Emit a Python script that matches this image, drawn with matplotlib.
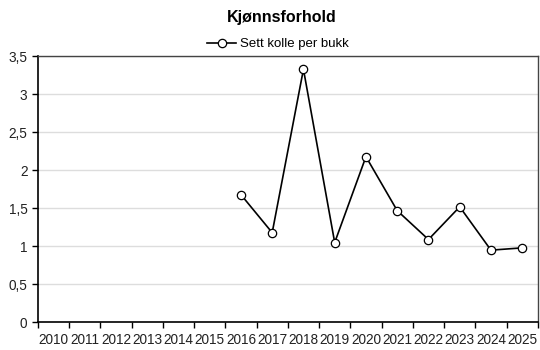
import numpy as np
import matplotlib.pyplot as plt
from matplotlib.ticker import FixedLocator, FuncFormatter

years = [str(y) for y in range(2010, 2026)]
data_years = ['2016', '2017', '2018', '2019', '2020', '2021', '2022', '2023', '2024', '2025']
ratio = [1.68, 1.18, 3.33, 1.05, 2.18, 1.47, 1.09, 1.52, 0.95, 0.98]

plt.rcParams['font.family'] = ['Liberation Sans', 'DejaVu Sans']

fig = plt.figure(figsize=(5.4, 3.5), dpi=100)
ax = fig.add_axes([0.070, 0.079, 0.926, 0.760])

x = np.array([years.index(y) for y in data_years])
ax.plot(x, ratio, color='black', linewidth=1.2, marker='o', markersize=6,
        markerfacecolor='white', markeredgecolor='black', markeredgewidth=0.9,
        label='Sett kolle per bukk', zorder=3)

ax.set_xlim(-0.5, len(years) - 0.5)
ax.set_ylim(0, 3.5)
ax.set_yticks(np.arange(0, 3.51, 0.5))
ax.yaxis.set_major_formatter(FuncFormatter(lambda v, p: ('%g' % v).replace('.', ',')))

ax.xaxis.set_major_locator(FixedLocator(np.arange(-0.5, len(years), 1)))
ax.xaxis.set_major_formatter(FuncFormatter(lambda v, p: ''))
ax.xaxis.set_minor_locator(FixedLocator(np.arange(len(years))))
ax.xaxis.set_minor_formatter(FuncFormatter(lambda v, p: years[int(round(v))]))
ax.tick_params(axis='x', which='major', length=4, width=1, color='black')
ax.tick_params(axis='x', which='minor', length=0, labelsize=9.8, pad=8, labelcolor='#222222')
ax.tick_params(axis='y', length=4, width=1, labelsize=9.8, color='black', labelcolor='#222222')

ax.grid(axis='y', color='#dddddd', linewidth=1)
ax.set_axisbelow(True)
for s in ['left', 'bottom']:
    ax.spines[s].set_color('black')
    ax.spines[s].set_linewidth(1.2)
for s in ['top', 'right']:
    ax.spines[s].set_color('#444444')
    ax.spines[s].set_linewidth(1)

fig.text(0.522, 0.95, 'Kjønnsforhold', ha='center', va='center', fontsize=11.5, fontweight='bold')
ax.legend(loc='center', bbox_to_anchor=(0.515, 0.874), bbox_transform=fig.transFigure,
          frameon=False, fontsize=9.5, handlelength=2.2, handletextpad=0.3)

fig.savefig('out.png', dpi=100)
